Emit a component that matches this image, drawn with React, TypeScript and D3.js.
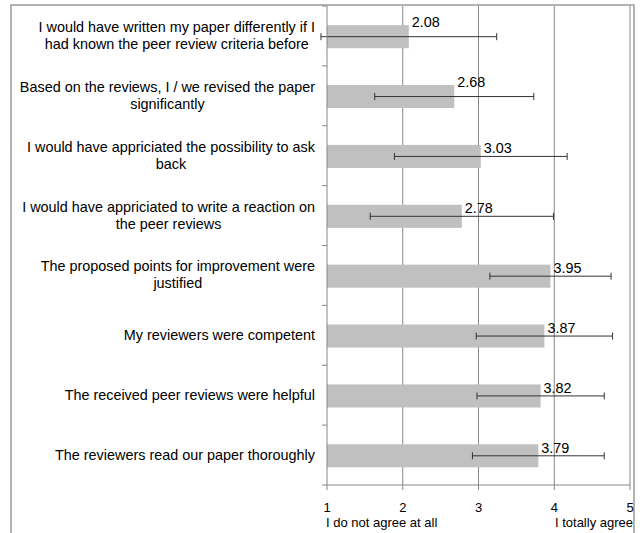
import React, { useEffect, useRef } from "react";
import * as d3 from "d3";

// survey statements, top to bottom (already wrapped like the original)
const statements: string[][] = [
  ["I would have written my paper differently if I", "had known the peer review criteria before"],
  ["Based on the reviews, I / we revised the paper", "significantly"],
  ["I would have appriciated the possibility to ask", "back"],
  ["I would have appriciated to write a reaction on", "the peer reviews"],
  ["The proposed points for improvement were", "justified"],
  ["My reviewers were competent"],
  ["The received peer reviews were helpful"],
  ["The reviewers read our paper thoroughly"],
];
const means = [2.08, 2.68, 3.03, 2.78, 3.95, 3.87, 3.82, 3.79];
const stdDevs = [1.16, 1.05, 1.14, 1.21, 0.8, 0.9, 0.84, 0.87];
const xTicks = [1, 2, 3, 4, 5];
const scaleEnds = ["I do not agree at all", "I totally agree"];

const App: React.FC = () => {
  const svgRef = useRef<SVGSVGElement | null>(null);

  useEffect(() => {
    const svg = d3.select(svgRef.current);
    svg.selectAll("*").remove();

    const h = 533;
    const font = "'Liberation Sans', Arial, sans-serif";
    const axisColor = "#868686";

    const x = d3.scaleLinear().domain([1, 5]).range([327, 630]);
    const y = d3
      .scaleBand<number>()
      .domain(d3.range(statements.length))
      .range([6, 485])
      .padding(0);
    const bw = y.bandwidth();

    // outer chart border (bottom edge is cut off in the original)
    svg.append("rect")
      .attr("x", 11)
      .attr("y", 5)
      .attr("width", 623)
      .attr("height", h + 20)
      .attr("fill", "#fff")
      .attr("stroke", "#9a9a9a")
      .attr("stroke-width", 1.5);

    // vertical gridlines
    svg.selectAll(".grid")
      .data(xTicks.slice(1))
      .enter()
      .append("line")
      .attr("x1", d => x(d))
      .attr("x2", d => x(d))
      .attr("y1", 6)
      .attr("y2", 485)
      .attr("stroke", axisColor)
      .attr("stroke-width", 1);

    // bars
    svg.selectAll(".bar")
      .data(means)
      .enter()
      .append("rect")
      .attr("x", x(1))
      .attr("y", (d, i) => y(i)! + bw * 0.32)
      .attr("width", d => x(d) - x(1))
      .attr("height", bw * 0.385)
      .attr("fill", "#c0c0c0");

    // error bars
    const errs = svg.selectAll(".err")
      .data(means)
      .enter()
      .append("g")
      .attr("transform", (d, i) => `translate(0, ${y(i)! + bw * 0.32 + bw * 0.1925})`)
      .attr("stroke", "#333")
      .attr("stroke-width", 1);
    errs.append("line")
      .attr("x1", (d, i) => x(d - stdDevs[i]))
      .attr("x2", (d, i) => x(d + stdDevs[i]))
      .attr("y1", 0)
      .attr("y2", 0);
    errs.append("line")
      .attr("x1", (d, i) => x(d - stdDevs[i]))
      .attr("x2", (d, i) => x(d - stdDevs[i]))
      .attr("y1", -3.5)
      .attr("y2", 3.5);
    errs.append("line")
      .attr("x1", (d, i) => x(d + stdDevs[i]))
      .attr("x2", (d, i) => x(d + stdDevs[i]))
      .attr("y1", -3.5)
      .attr("y2", 3.5);

    // value labels (the first two sit a bit higher in the original)
    svg.selectAll(".val")
      .data(means)
      .enter()
      .append("text")
      .attr("x", d => x(d) + 3)
      .attr("y", (d, i) => y(i)! + bw * 0.32 + 8.5 - (i < 2 ? 6.5 : 0))
      .style("font-family", font)
      .style("font-size", "14.4px")
      .style("fill", "#000")
      .text(d => d.toFixed(2));

    // y axis line + ticks at band edges
    svg.append("line")
      .attr("x1", x(1)).attr("x2", x(1))
      .attr("y1", 6).attr("y2", 485)
      .attr("stroke", axisColor);
    svg.selectAll(".ytick")
      .data(d3.range(statements.length + 1))
      .enter()
      .append("line")
      .attr("x1", x(1) - 5)
      .attr("x2", x(1))
      .attr("y1", i => (i < statements.length ? y(i)! : 485))
      .attr("y2", i => (i < statements.length ? y(i)! : 485))
      .attr("stroke", axisColor);

    // x axis line + ticks
    svg.append("line")
      .attr("x1", x(1)).attr("x2", x(5))
      .attr("y1", 485).attr("y2", 485)
      .attr("stroke", axisColor);
    svg.selectAll(".xtick")
      .data(xTicks)
      .enter()
      .append("line")
      .attr("x1", d => x(d)).attr("x2", d => x(d))
      .attr("y1", 485).attr("y2", 490)
      .attr("stroke", axisColor);
    svg.selectAll(".xlab")
      .data(xTicks)
      .enter()
      .append("text")
      .attr("x", d => x(d))
      .attr("y", 511.5)
      .style("font-family", font)
      .style("font-size", "13px")
      .style("text-anchor", "middle")
      .style("fill", "#000")
      .text(d => d);

    svg.append("text")
      .attr("x", x(1) - 1)
      .attr("y", 527)
      .style("font-family", font)
      .style("font-size", "13px")
      .style("fill", "#000")
      .text(scaleEnds[0]);
    svg.append("text")
      .attr("x", 633)
      .attr("y", 527)
      .style("font-family", font)
      .style("font-size", "13px")
      .style("text-anchor", "end")
      .style("fill", "#000")
      .text(scaleEnds[1]);

    // category labels: each block centred on itself, right-aligned to the axis
    const labelRight = 315;
    const lineH = 17;
    statements.forEach((lines, i) => {
      const cy = y(i)! + bw / 2;
      const g = svg.append("g");
      const texts = lines.map((ln, k) =>
        g.append("text")
          .attr("y", cy - ((lines.length - 1) * lineH) / 2 + k * lineH + 4.5)
          .style("font-family", font)
          .style("font-size", "14.4px")
          .style("text-anchor", "middle")
          .style("fill", "#000")
          .text(ln)
      );
      const maxW = d3.max(texts, t => (t.node() as SVGTextElement).getComputedTextLength())!;
      texts.forEach(t => t.attr("x", labelRight - maxW / 2));
    });
  }, []);

  return (
    <svg
      ref={svgRef}
      width={642}
      height={533}
      style={{ position: "absolute", left: 0, top: 0, background: "#fff" }}
    />
  );
};

export default App;
